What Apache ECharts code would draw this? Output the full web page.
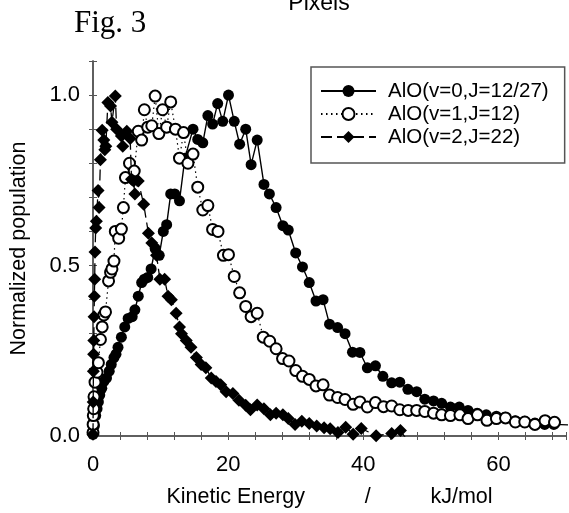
<!DOCTYPE html>
<html>
<head>
<meta charset="utf-8">
<script src="https://cdn.jsdelivr.net/npm/echarts@6/dist/echarts.min.js"></script>
<style>html,body{margin:0;padding:0;background:#fff;}#c{width:569px;height:513px;}</style>
</head>
<body>
<div id="c"></div>
<script>
// Series names
const names = ['AlO(v=0,J=12/27)', 'AlO(v=1,J=12)', 'AlO(v=2,J=22)'];

// v=0 (filled circles)
const e0 = [0, 0.2, 0.4, 0.6, 0.8, 1.0, 1.3, 1.6, 2.0, 2.4, 2.7, 3.1, 3.4, 3.7, 4.2, 4.7, 5.2, 5.8, 6.2, 6.7, 7.2, 7.6, 8.1, 8.6, 9.2, 9.8, 10.4, 10.9, 11.5, 12.1, 12.8, 13.6, 14.8, 15.5, 16.25, 17.0, 17.7, 18.45, 19.2, 20.05, 20.9, 21.7, 22.6, 23.4, 24.3, 25.3, 26.1, 27.1, 28.1, 28.9, 30.0, 31.0, 32.0, 33.0, 34.05, 35.0, 36.2, 37.3, 38.4, 39.5, 40.6, 41.8, 42.9, 44.2, 45.4, 46.6, 47.9, 49.1, 50.4, 51.6, 52.9, 54.2, 55.5, 56.85, 58.2, 59.7, 61.0, 62.5, 63.9, 65.4, 66.85, 68.2, 71.0];
const p0 = [0.005, 0.03, 0.06, 0.08, 0.10, 0.12, 0.14, 0.16, 0.17, 0.19, 0.21, 0.23, 0.24, 0.26, 0.29, 0.32, 0.345, 0.35, 0.37, 0.41, 0.45, 0.46, 0.465, 0.49, 0.55, 0.53, 0.60, 0.62, 0.71, 0.71, 0.69, 0.815, 0.90, 0.87, 0.86, 0.94, 0.915, 0.975, 0.923, 1.0, 0.923, 0.856, 0.90, 0.796, 0.868, 0.738, 0.71, 0.67, 0.617, 0.604, 0.537, 0.496, 0.45, 0.396, 0.40, 0.328, 0.318, 0.30, 0.246, 0.245, 0.20, 0.206, 0.175, 0.156, 0.158, 0.137, 0.13, 0.108, 0.103, 0.096, 0.085, 0.085, 0.075, 0.067, 0.062, 0.058, 0.055, 0.045, 0.043, 0.038, 0.034, 0.034, 0.032];

// v=1 (open circles)
const e1 = [0, 0.02, 0.05, 0.1, 0.15, 0.3, 0.6, 0.8, 1.1, 1.36, 1.6, 1.85, 2.3, 2.6, 2.8, 3.1, 3.3, 3.8, 4.2, 4.5, 4.8, 5.4, 6.1, 6.7, 7.2, 7.6, 8.1, 8.7, 9.2, 9.75, 10.3, 10.9, 11.5, 12.2, 12.8, 13.4, 14.05, 14.8, 15.5, 16.25, 17.0, 17.7, 18.5, 19.3, 20.05, 20.9, 21.7, 22.6, 23.4, 24.3, 25.2, 26.15, 27.1, 28.05, 29.0, 30.0, 31.0, 32.0, 33.0, 34.05, 35.0, 36.2, 37.3, 38.5, 39.5, 40.6, 41.8, 43.0, 44.2, 45.4, 46.65, 47.9, 49.1, 50.4, 51.6, 52.9, 54.3, 55.5, 56.9, 58.3, 59.7, 61.05, 62.5, 63.9, 65.4, 66.9, 68.3];
const p1 = [0.01, 0.034, 0.06, 0.08, 0.115, 0.158, 0.187, 0.215, 0.283, 0.32, 0.355, 0.364, 0.455, 0.48, 0.49, 0.513, 0.60, 0.58, 0.607, 0.67, 0.758, 0.80, 0.777, 0.894, 0.868, 0.957, 0.906, 0.91, 0.997, 0.887, 0.957, 0.906, 0.98, 0.90, 0.815, 0.89, 0.80, 0.827, 0.73, 0.663, 0.676, 0.606, 0.60, 0.53, 0.532, 0.468, 0.42, 0.38, 0.35, 0.36, 0.29, 0.278, 0.256, 0.227, 0.22, 0.192, 0.175, 0.166, 0.147, 0.15, 0.12, 0.113, 0.107, 0.093, 0.10, 0.085, 0.098, 0.086, 0.088, 0.077, 0.075, 0.075, 0.072, 0.067, 0.062, 0.06, 0.062, 0.051, 0.062, 0.046, 0.051, 0.053, 0.041, 0.041, 0.034, 0.045, 0.040];

// v=2 (diamonds)
const e2 = [0, 0.03, 0.06, 0.09, 0.12, 0.16, 0.2, 0.25, 0.3, 0.4, 0.5, 0.75, 0.9, 1.1, 1.36, 1.6, 1.75, 1.9, 2.2, 2.6, 2.8, 3.3, 3.5, 4.2, 4.4, 5.0, 5.5, 5.7, 6.0, 6.2, 6.7, 7.5, 8.2, 8.7, 9.4, 9.9, 10.6, 11.1, 11.6, 12.3, 12.8, 13.1, 13.8, 14.5, 15.3, 16.0, 16.7, 17.5, 18.2, 18.9, 19.7, 20.7, 21.6, 22.6, 23.3, 24.3, 25.3, 26.25, 27.1, 28.1, 28.9, 29.9, 30.9, 32.0, 33.1, 34.2, 35.1, 36.25, 37.4, 38.5, 39.7, 41.9, 44.2, 45.5, 46.4];
const p2 = [0.005, 0.1, 0.19, 0.24, 0.28, 0.35, 0.41, 0.46, 0.54, 0.61, 0.63, 0.72, 0.67, 0.81, 0.897, 0.868, 0.84, 0.85, 0.978, 0.968, 0.92, 0.997, 0.90, 0.88, 0.85, 0.894, 0.873, 0.753, 0.748, 0.71, 0.748, 0.68, 0.595, 0.566, 0.53, 0.46, 0.46, 0.41, 0.40, 0.36, 0.32, 0.30, 0.28, 0.26, 0.23, 0.21, 0.20, 0.17, 0.16, 0.15, 0.13, 0.125, 0.105, 0.09, 0.077, 0.091, 0.08, 0.062, 0.067, 0.062, 0.051, 0.034, 0.043, 0.037, 0.029, 0.024, 0.021, 0.01, 0.026, 0.005, 0.022, 0.001, 0.007, 0.016, -0.01];

const FONT = 'Liberation Sans';
const AX = '#555';
const zip = (a, b) => a.map((v, i) => [v, b[i]]);

const xBase = {
  type: 'value', min: 0, max: 70, interval: 4,
  axisLine: { show: true, lineStyle: { color: AX, width: 1.5 } },
  axisTick: { show: true, inside: true, length: 4, lineStyle: { color: AX, width: 1 } },
  splitLine: { show: false }
};
const yBase = {
  type: 'value', min: 0, max: 1.1, interval: 0.1,
  axisLine: { show: true, lineStyle: { color: AX, width: 1.5 } },
  axisTick: { show: true, inside: true, length: 4, lineStyle: { color: AX, width: 1 } },
  splitLine: { show: false }
};

const chart = echarts.init(document.getElementById('c'), null, { renderer: 'canvas' });
chart.setOption({
  animation: false,
  backgroundColor: '#fff',
  grid: { left: 91, right: 2, top: 61, bottom: 71, containLabel: false },
  xAxis: [
    Object.assign({}, xBase, {
      position: 'bottom',
      name: 'Kinetic Energy          /          kJ/mol',
      nameLocation: 'middle', nameGap: 50,
      nameTextStyle: { fontFamily: FONT, fontSize: 21.5, color: '#000' },
      axisLabel: {
        show: true, margin: 18, fontFamily: FONT, fontSize: 22, color: '#000',
        formatter: v => (Math.round(v) % 20 === 0 && v <= 60) ? String(Math.round(v)) : ''
      }
    }),
    Object.assign({}, xBase, { position: 'top', axisLabel: { show: false } })
  ],
  yAxis: [
    Object.assign({}, yBase, {
      position: 'left',
      name: 'Normalized population',
      nameLocation: 'middle', nameGap: 63,
      nameTextStyle: { fontFamily: FONT, fontSize: 21.5, color: '#000' },
      axisLabel: {
        show: true, margin: 13, fontFamily: FONT, fontSize: 22, color: '#000',
        formatter: v => { const k = Math.round(v * 10); return (k % 5 === 0 && k <= 10) ? (k / 10).toFixed(1) : ''; }
      }
    }),
    Object.assign({}, yBase, { position: 'right', axisLabel: { show: false } })
  ],
  legend: {
    orient: 'vertical', left: 311, top: 67,
    padding: [13, 16, 15, 9], itemGap: 1, itemWidth: 55, itemHeight: 15,
    backgroundColor: '#fff', borderColor: AX, borderWidth: 1.5, borderRadius: 0,
    textStyle: { fontFamily: FONT, fontSize: 20.5, color: '#000', lineHeight: 22, padding: [0, 0, 0, 7] },
    data: names
  },
  graphic: [
    { type: 'text', x: 74, y: 24, style: { text: 'Fig. 3', font: '31px "Liberation Serif"', fill: '#000', textAlign: 'left', textVerticalAlign: 'middle', align: 'left', verticalAlign: 'middle' } },
    { type: 'text', x: 319, y: 4, style: { text: 'Pixels', font: '23px "Liberation Sans"', fill: '#000', textAlign: 'center', textVerticalAlign: 'middle', align: 'center', verticalAlign: 'middle' } }
  ],
  series: [
    {
      name: names[0], type: 'line', data: zip(e0, p0),
      symbol: 'circle', symbolSize: 11, showAllSymbol: true,
      lineStyle: { color: '#000', width: 1.4, type: 'solid' },
      itemStyle: { color: '#000' }, z: 2
    },
    {
      name: names[1], type: 'line', data: zip(e1, p1),
      symbol: 'emptyCircle', symbolSize: 11, showAllSymbol: true,
      lineStyle: { color: '#000', width: 1.2, type: [1.5, 3.5] },
      itemStyle: { color: '#000', borderColor: '#000', borderWidth: 1 }, z: 3
    },
    {
      name: names[2], type: 'line', data: zip(e2, p2),
      symbol: 'diamond', symbolSize: [13, 13], showAllSymbol: true,
      lineStyle: { color: '#000', width: 1.3, type: [11, 5] },
      itemStyle: { color: '#000' }, z: 4
    }
  ]
});
</script>
</body>
</html>
